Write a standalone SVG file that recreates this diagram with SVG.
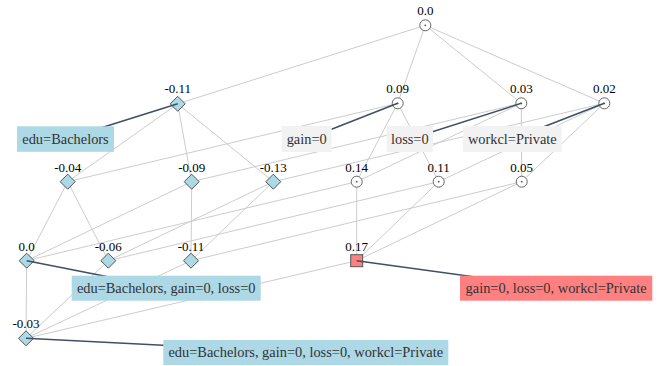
<svg xmlns="http://www.w3.org/2000/svg" width="660" height="366" viewBox="0 0 660 366">
<style>
.e{stroke:#cccccc;stroke-width:1;fill:none}
.c{stroke:#3f4f66;stroke-width:1.5;fill:none}
.circ{fill:#ffffff;stroke:#666666;stroke-width:1}
.dot{fill:#555555}
.dia{fill:#add8e6;stroke:#555555;stroke-width:1}
.sq{fill:#ff8080;stroke:#555555;stroke-width:1}
.num{font-family:"Liberation Serif","Times New Roman",serif;font-size:13px;fill:#000000;text-anchor:middle}
.lbl{font-family:"Liberation Serif","Times New Roman",serif;font-size:14.4px;fill:#333333;text-anchor:middle}
.bb{fill:#add8e6}
.bg{fill:#f2f2f2}
.br{fill:#ff8080}
</style>
<defs>
<g id="circ"><circle class="circ" r="5.5"/><circle class="dot" r="0.9"/></g>
<polygon id="dia" class="dia" points="0,-7.5 7.5,0 0,7.5 -7.5,0"/>
</defs>
<g id="edges">
<line class="e" x1="425.3" y1="25.3" x2="177.7" y2="103.8"/>
<line class="e" x1="425.3" y1="25.3" x2="397.7" y2="103.3"/>
<line class="e" x1="425.3" y1="25.3" x2="521.3" y2="103.3"/>
<line class="e" x1="425.3" y1="25.3" x2="604.3" y2="103.3"/>
<line class="e" x1="177.7" y1="103.8" x2="67.7" y2="181.7"/>
<line class="e" x1="177.7" y1="103.8" x2="191.7" y2="181.7"/>
<line class="e" x1="177.7" y1="103.8" x2="273.3" y2="181.7"/>
<line class="e" x1="397.7" y1="103.3" x2="67.7" y2="181.7"/>
<line class="e" x1="397.7" y1="103.3" x2="356.7" y2="181.7"/>
<line class="e" x1="397.7" y1="103.3" x2="438.7" y2="181.7"/>
<line class="e" x1="521.3" y1="103.3" x2="191.7" y2="181.7"/>
<line class="e" x1="521.3" y1="103.3" x2="356.7" y2="181.7"/>
<line class="e" x1="521.3" y1="103.3" x2="521.7" y2="181.7"/>
<line class="e" x1="604.3" y1="103.3" x2="273.3" y2="181.7"/>
<line class="e" x1="604.3" y1="103.3" x2="438.7" y2="181.7"/>
<line class="e" x1="604.3" y1="103.3" x2="521.7" y2="181.7"/>
<line class="e" x1="67.7" y1="181.7" x2="26.7" y2="260.7"/>
<line class="e" x1="67.7" y1="181.7" x2="108.3" y2="260.7"/>
<line class="e" x1="191.7" y1="181.7" x2="26.7" y2="260.7"/>
<line class="e" x1="191.7" y1="181.7" x2="191" y2="260.7"/>
<line class="e" x1="273.3" y1="181.7" x2="108.3" y2="260.7"/>
<line class="e" x1="273.3" y1="181.7" x2="191" y2="260.7"/>
<line class="e" x1="356.7" y1="181.7" x2="26.7" y2="260.7"/>
<line class="e" x1="356.7" y1="181.7" x2="356.7" y2="260.7"/>
<line class="e" x1="438.7" y1="181.7" x2="108.3" y2="260.7"/>
<line class="e" x1="438.7" y1="181.7" x2="356.7" y2="260.7"/>
<line class="e" x1="521.7" y1="181.7" x2="191" y2="260.7"/>
<line class="e" x1="521.7" y1="181.7" x2="356.7" y2="260.7"/>
<line class="e" x1="26.7" y1="260.7" x2="26" y2="338.3"/>
<line class="e" x1="108.3" y1="260.7" x2="26" y2="338.3"/>
<line class="e" x1="191" y1="260.7" x2="26" y2="338.3"/>
<line class="e" x1="356.7" y1="260.7" x2="26" y2="338.3"/>
</g>
<g id="n-root"><use href="#circ" x="425.3" y="25.3"/><text class="num" x="425.3" y="15">0.0</text></g>
<g id="n-A"><use href="#dia" x="177.7" y="103.8"/><text class="num" x="177.7" y="93">-0.11</text></g>
<g id="n-G"><use href="#circ" x="397.7" y="103.3"/><text class="num" x="397.7" y="93">0.09</text></g>
<g id="n-L"><use href="#circ" x="521.3" y="103.3"/><text class="num" x="521.3" y="93">0.03</text></g>
<g id="n-W"><use href="#circ" x="604.3" y="103.3"/><text class="num" x="604.3" y="93">0.02</text></g>
<g id="n-AG"><use href="#dia" x="67.7" y="181.7"/><text class="num" x="67.7" y="171.5">-0.04</text></g>
<g id="n-AL"><use href="#dia" x="191.7" y="181.7"/><text class="num" x="191.7" y="171.5">-0.09</text></g>
<g id="n-AW"><use href="#dia" x="273.3" y="181.7"/><text class="num" x="273.3" y="171.5">-0.13</text></g>
<g id="n-GL"><use href="#circ" x="356.7" y="181.7"/><text class="num" x="356.7" y="171.5">0.14</text></g>
<g id="n-GW"><use href="#circ" x="438.7" y="181.7"/><text class="num" x="438.7" y="171.5">0.11</text></g>
<g id="n-LW"><use href="#circ" x="521.7" y="181.7"/><text class="num" x="521.7" y="171.5">0.05</text></g>
<g id="n-AGL"><use href="#dia" x="26.7" y="260.7"/><text class="num" x="26.7" y="250.5">0.0</text></g>
<g id="n-AGW"><use href="#dia" x="108.3" y="260.7"/><text class="num" x="108.3" y="250.5">-0.06</text></g>
<g id="n-ALW"><use href="#dia" x="191" y="260.7"/><text class="num" x="191" y="250.5">-0.11</text></g>
<g id="n-GLW"><rect class="sq" x="350.7" y="254.7" width="12" height="12"/><text class="num" x="356.7" y="250.5">0.17</text></g>
<g id="n-AGLW"><use href="#dia" x="26" y="338.3"/><text class="num" x="26" y="328">-0.03</text></g>
<g id="label-connectors">
<line class="c" x1="65.5" y1="139" x2="177.7" y2="103.8"/>
<line class="c" x1="306.7" y1="139" x2="397.7" y2="103.3"/>
<line class="c" x1="409.8" y1="139" x2="521.3" y2="103.3"/>
<line class="c" x1="512.3" y1="139" x2="604.3" y2="103.3"/>
<line class="c" x1="166.2" y1="288.2" x2="26.7" y2="260.7"/>
<line class="c" x1="556.1" y1="288.2" x2="356.7" y2="260.7"/>
<line class="c" x1="305.8" y1="352.5" x2="26" y2="338.3"/>
</g>
<g id="lbl-edu"><rect class="bb" x="17" y="126.3" width="97" height="25.5"/><text class="lbl" x="65.5" y="143.6">edu=Bachelors</text></g>
<g id="lbl-gain"><rect class="bg" x="281.7" y="126" width="50" height="26"/><text class="lbl" x="306.7" y="143.6">gain=0</text></g>
<g id="lbl-loss"><rect class="bg" x="386.7" y="126" width="46.3" height="26"/><text class="lbl" x="409.8" y="143.6">loss=0</text></g>
<g id="lbl-workcl"><rect class="bg" x="463" y="126" width="98.7" height="26"/><text class="lbl" x="512.3" y="143.6">workcl=Private</text></g>
<g id="lbl-egl"><rect class="bb" x="71.7" y="275.7" width="189" height="25"/><text class="lbl" x="166.2" y="292.6">edu=Bachelors, gain=0, loss=0</text></g>
<g id="lbl-glw"><rect class="br" x="460" y="275.7" width="192.3" height="25"/><text class="lbl" x="556.1" y="292.6">gain=0, loss=0, workcl=Private</text></g>
<g id="lbl-eglw"><rect class="bb" x="163.3" y="340" width="285" height="25"/><text class="lbl" x="305.8" y="357">edu=Bachelors, gain=0, loss=0, workcl=Private</text></g>
</svg>
